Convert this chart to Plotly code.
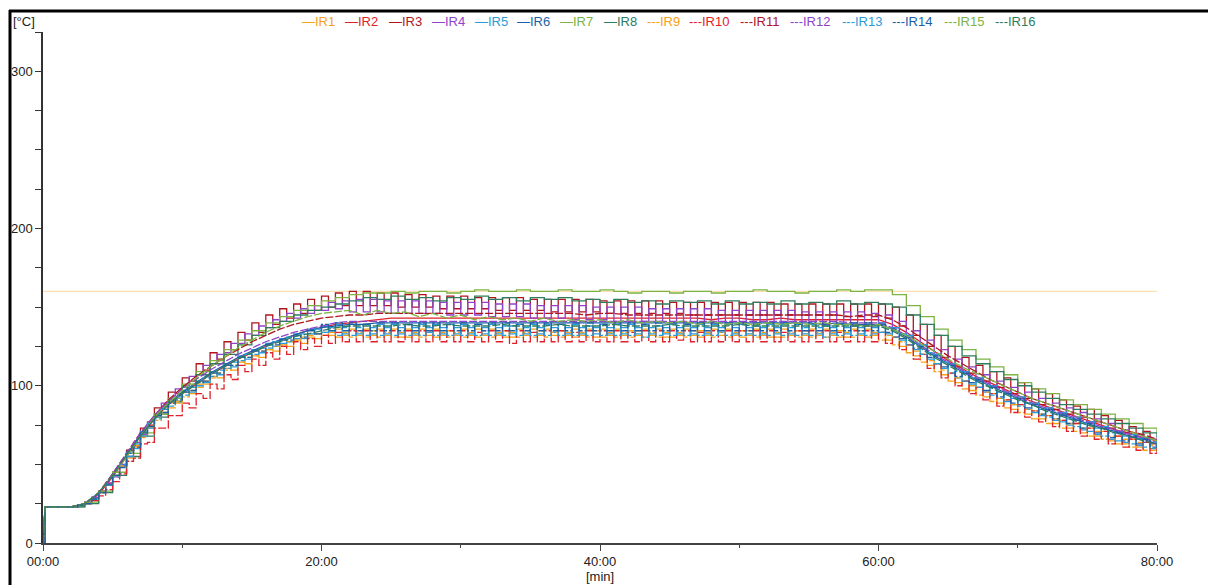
import plotly.graph_objects as go

# ---------------- data ----------------
# sample times (min): first sample at start, logger then records every 0.5 min / 1 min
T_HALF = [0, 0.15] + [i * 0.5 for i in range(2, 161)]
T_MIN = [0, 0.15] + list(range(2, 81))

NAMES = ["IR1", "IR2", "IR3", "IR4", "IR5", "IR6", "IR7", "IR8",
         "IR9", "IR10", "IR11", "IR12", "IR13", "IR14", "IR15", "IR16"]
COLORS = ["#F7A11A", "#E0202A", "#B0151E", "#8E44C9", "#2A9BD8", "#1E5FA6", "#7CB342", "#2E7D5E",
          "#F7A11A", "#E0202A", "#B0151E", "#8E44C9", "#2A9BD8", "#1E5FA6", "#7CB342", "#2E7D5E"]

LIMIT_T = [0, 80]
LIMIT_V = [160, 160]

IR1 = [0,23,23,23,23,24,25,28,32,37,
       43,49,57,61,70,73,81,82,89,89,
       96,95,101,101,106,105,111,110,115,114,119,118,123,122,126,125,129,127,131,130,
       134,132,136,132,136,132,136,132,136,132,136,131,136,132,136,132,136,132,135,132,
       136,132,136,132,136,132,135,131,136,132,136,132,136,132,135,132,136,132,136,131,
       136,132,136,132,135,132,136,132,136,131,136,132,136,132,135,132,136,132,136,132,
       135,132,136,132,136,131,136,132,135,132,136,132,136,132,135,131,136,132,136,132,
       134,129,131,125,126,119,120,113,114,107,108,102,103,97,99,93,95,89,91,85,
       88,82,84,79,81,76,78,73,76,70,73,68,71,65,68,63,66,61,64,59,62]

IR3 = [0,23,23,23,23,24,26,29,33,38,
       45,49,59,62,73,75,86,85,96,95,
       105,103,114,110,121,117,128,123,134,129,140,134,145,139,149,143,152,146,155,148,
       157,150,159,151,160,151,160,151,159,151,159,150,158,150,158,150,157,149,157,149,
       157,149,156,149,156,148,156,148,156,148,155,148,155,147,155,147,155,147,155,147,
       154,146,154,146,154,146,154,146,154,146,153,146,153,145,153,145,153,145,153,145,
       153,145,153,145,153,145,152,145,152,145,152,145,152,145,152,144,152,144,152,144,
       152,143,150,138,145,132,139,125,132,118,125,112,118,108,113,103,109,99,105,95,
       102,92,98,88,95,85,91,82,87,80,85,77,81,73,78,70,74,66,71,63,66]

IR4 = [0,23,23,23,23,24,26,29,33,38,
       42,50,55,64,69,77,81,89,91,98,
       100,106,107,113,114,120,121,127,127,133,132,138,137,142,141,146,143,149,146,151,
       148,153,149,154,147,155,147,155,147,154,146,154,146,154,146,154,146,153,145,153,
       145,153,145,153,144,152,144,152,144,152,143,151,143,151,143,151,142,151,142,150,
       142,150,141,150,141,150,141,149,141,149,140,149,140,149,140,149,140,148,140,148,
       140,148,140,148,139,148,139,148,139,147,139,147,139,147,139,147,138,147,138,146,
       140,145,137,141,132,135,126,129,120,123,114,117,108,112,103,107,99,103,95,99,
       92,96,88,92,85,89,81,86,78,83,77,79,73,76,70,72,67,69,64,66,61]

IR5 = [0,23,23,23,23,24,25,28,32,37,
       43,49,58,60,71,73,82,82,90,90,
       97,96,103,102,109,107,114,112,119,117,123,121,127,125,130,128,133,130,136,133,
       138,134,139,133,139,133,139,133,139,133,139,133,139,133,139,134,139,133,139,133,
       139,133,139,133,139,133,138,133,139,133,139,133,139,134,139,133,139,133,138,133,
       139,133,139,133,139,133,139,133,138,133,139,133,139,133,139,133,139,134,139,133,
       139,133,138,133,139,133,139,133,139,133,139,133,138,133,139,133,139,133,139,133,
       140,133,137,129,132,123,126,117,120,111,114,105,109,101,105,96,100,92,96,88,
       93,85,89,81,86,78,83,75,80,72,77,69,74,66,71,64,69,62,67,60,64]

IR9 = [0,23,23,23,23,24,25,28,32,37,
       42,49,54,62,67,74,78,83,86,90,
       93,97,99,103,105,108,110,113,115,118,119,122,123,125,126,128,129,131,132,133,
       132,134,131,134,131,134,131,135,131,134,131,134,131,134,131,135,131,134,131,134,
       131,134,131,135,131,134,131,134,131,134,131,135,131,134,131,134,131,134,131,135,
       131,134,131,134,131,135,131,134,131,134,131,134,131,135,131,134,131,134,131,134,
       131,135,131,134,131,134,131,134,131,135,131,134,131,134,131,134,131,135,131,134,
       129,132,126,128,121,122,115,116,109,110,103,105,98,100,94,96,90,92,86,88,
       83,85,79,82,76,79,73,76,71,73,68,71,66,68,63,66,61,64,59,62,57]

IR10 = [0,23,23,23,23,24,25,27,30,34,
        39,44,52,54,63,64,73,73,81,81,
        89,86,95,92,101,98,107,104,113,109,117,113,121,117,125,120,128,123,130,125,
        132,127,134,128,135,128,135,128,135,128,135,128,135,128,135,128,135,128,135,128,
        135,128,134,128,135,128,135,127,135,128,134,128,135,128,135,128,134,128,135,128,
        135,128,135,128,134,128,135,128,135,128,135,129,135,128,134,128,135,128,135,128,
        135,128,135,128,135,128,134,128,135,128,135,128,135,128,134,128,135,128,135,128,
        134,127,131,123,126,117,120,111,114,105,108,100,103,95,99,91,95,87,91,83,
        88,80,84,77,81,74,78,71,76,68,73,66,71,63,68,61,66,59,64,57,62]

IR13 = [0,23,23,23,23,24,25,28,32,37,
        42,50,55,63,68,76,79,85,87,93,
        94,99,100,105,106,110,111,115,116,120,120,124,124,128,127,131,130,133,133,136,
        134,137,132,137,132,137,132,137,132,137,132,137,132,137,132,137,132,137,132,137,
        132,137,132,137,132,137,132,138,132,137,132,137,132,137,132,137,132,137,132,137,
        132,137,132,137,132,137,131,137,132,137,132,137,132,137,132,137,132,137,132,137,
        132,137,132,137,132,137,132,137,132,137,132,137,131,137,132,137,132,137,132,137,
        134,137,131,133,126,127,120,121,114,115,108,109,103,105,99,100,94,96,90,92,
        87,89,83,85,80,82,77,79,74,76,71,73,68,70,65,68,63,66,61,64,59]

IR14 = [0,23,23,23,23,24,25,28,32,37,
        43,48,57,61,70,74,81,83,89,91,
        96,97,102,103,108,108,113,113,118,118,122,122,126,126,129,129,132,131,135,133,
        139,135,140,135,140,135,139,135,140,135,140,135,139,135,140,135,140,135,139,135,
        140,135,139,135,140,135,140,135,139,135,140,135,140,135,139,135,140,135,140,135,
        139,135,140,135,140,135,139,135,140,135,140,135,139,135,140,135,140,135,139,135,
        140,135,139,135,140,135,140,135,139,135,140,135,140,135,139,135,140,135,140,135,
        139,134,136,130,131,124,125,118,119,112,113,106,108,102,104,97,99,93,95,89,
        92,86,88,82,85,79,82,76,79,73,76,70,73,67,70,65,68,63,66,61,63]

IR2 = [0,23,23,25,31,42,55,68,79,88,95,
       101,107,112,117,121,125,129,132,135,137,139,
       140,141,142,143,143,143,143,143,143,143,
       143,143,143,143,143,143,143,143,143,143,
       143,143,143,143,143,143,142,143,143,142,
       142,143,142,142,142,142,142,142,142,
       139,134,128,122,116,111,106,102,98,94,90,87,84,81,78,75,72,70,67,65]

IR6 = [0,23,23,25,32,43,56,69,80,89,96,
       102,108,113,118,122,126,129,132,135,137,138,
       139,139,140,140,140,140,140,140,140,140,
       140,140,140,140,140,140,140,140,140,140,
       140,140,140,140,140,140,140,140,140,140,
       140,140,140,140,139,140,139,139,139,
       136,131,125,119,114,109,104,100,96,92,88,85,82,79,76,73,71,68,66,63]

IR7 = [0,23,23,26,33,45,57,70,82,92,101,
       109,116,123,129,135,140,144,148,151,154,156,
       158,159,159,160,159,160,160,159,160,161,
       160,160,161,160,160,161,160,160,161,160,
       159,160,160,159,160,160,159,160,160,161,
       160,160,159,160,160,161,160,161,161,
       158,151,144,136,129,123,117,112,107,102,98,95,91,88,85,82,79,76,73,70]

IR8 = [0,23,23,25,32,43,55,68,80,90,99,
       107,114,120,126,132,137,141,145,148,150,152,
       154,156,155,157,155,156,154,156,155,157,
       155,156,154,156,155,156,154,155,153,155,
       153,154,152,154,153,154,152,154,152,153,
       152,154,152,153,152,154,152,153,152,
       150,145,139,132,125,119,114,109,104,100,96,92,88,85,82,79,76,73,70,67]

IR11 = [0,23,23,25,32,44,57,70,81,91,99,
        106,112,118,123,128,132,136,139,141,143,144,
        145,145,146,146,146,146,146,146,146,146,
        146,146,146,146,146,146,146,145,146,146,
        145,145,145,145,145,145,145,145,145,145,
        145,145,145,145,145,145,144,145,145,
        142,137,131,125,119,114,109,104,100,96,92,89,86,83,80,77,74,71,69,66]

IR12 = [0,23,23,25,32,44,57,70,81,90,98,
        104,110,115,120,124,128,131,134,136,138,140,
        141,141,141,141,141,141,141,141,141,141,
        141,141,141,141,141,141,141,141,141,141,
        141,141,141,141,141,141,141,141,141,141,
        141,141,141,141,141,141,140,140,140,
        137,132,126,120,115,110,105,101,97,93,89,86,83,80,77,74,72,69,67,64]

IR15 = [0,23,23,25,32,43,55,68,80,89,97,
        105,112,118,124,129,134,138,141,144,146,147,
        148,145,148,146,147,144,146,143,145,142,
        144,142,143,141,143,141,142,141,142,140,
        142,140,141,140,141,139,141,139,140,139,
        140,139,140,139,140,139,139,138,139,
        136,132,127,122,117,112,108,104,100,96,92,89,86,83,80,77,74,71,68,65]

IR16 = [0,23,23,25,32,43,56,68,79,88,95,
        101,107,112,117,121,125,128,131,133,135,137,
        138,138,138,138,139,138,138,139,138,138,
        138,139,138,138,138,139,138,138,138,139,
        138,138,138,139,138,138,138,138,139,138,
        138,138,138,138,138,138,138,138,138,
        135,130,124,118,113,108,103,99,95,91,88,84,81,78,75,73,70,68,65,63]

SERIES = [IR1, IR2, IR3, IR4, IR5, IR6, IR7, IR8,
          IR9, IR10, IR11, IR12, IR13, IR14, IR15, IR16]
STEPPED = [True, False, True, True, True, False, True, True,
           True, True, False, False, True, True, False, False]

XTICK_VALS = [0, 20, 40, 60, 80]
XTICK_LABELS = ["00:00", "20:00", "40:00", "60:00", "80:00"]
YTICK_VALS = [0, 100, 200, 300]
YTICK_LABELS = ["0", "100", "200", "300"]

# ---------------- figure ----------------
W, H = 1208, 585
L, R, T, B = 43, 51, 32, 42
FONT = "Liberation Sans, Arial, sans-serif"


def px_x(px):
    return (px - L) / (W - L - R)


def px_y(py):
    return (H - B - py) / (H - T - B)


fig = go.Figure()

fig.add_trace(go.Scatter(x=LIMIT_T, y=LIMIT_V, mode="lines",
                         line=dict(color="#FCDDB4", width=1.2),
                         hoverinfo="skip", showlegend=False))

for k, (name, color, vals) in enumerate(zip(NAMES, COLORS, SERIES)):
    assert len(vals) in (len(T_HALF), len(T_MIN)), (name, len(vals))
    xs = T_HALF if len(vals) == len(T_HALF) else T_MIN
    fig.add_trace(go.Scatter(
        x=xs, y=vals, name=name, mode="lines",
        line=dict(color=color, width=1.3, shape="hv" if STEPPED[k] else "linear",
                  dash="solid" if k < 8 else "8px,2px"),
        showlegend=False))

# compact legend (colored text entries, as in the original)
LEG_PX = [300, 343, 387, 430, 473, 515, 558, 602, 645,
          687, 738, 788, 840, 890, 942, 993]
annotations = []
for k, (name, color) in enumerate(zip(NAMES, COLORS)):
    prefix = "\u2014" if k < 8 else "---"
    annotations.append(dict(
        x=px_x(LEG_PX[k]), y=px_y(22), xref="paper", yref="paper",
        xanchor="left", yanchor="middle", showarrow=False,
        text=prefix + name, font=dict(family=FONT, size=13, color=color)))

annotations.append(dict(x=px_x(11), y=px_y(22), xref="paper", yref="paper",
                        xanchor="left", yanchor="middle", showarrow=False,
                        text="[°C]", font=dict(family=FONT, size=13, color="#222")))
annotations.append(dict(x=px_x(600), y=px_y(576), xref="paper", yref="paper",
                        xanchor="center", yanchor="middle", showarrow=False,
                        text="[min]", font=dict(family=FONT, size=13, color="#222")))

shapes = [
    dict(type="line", xref="paper", yref="paper",
         x0=px_x(9), x1=px_x(1215), y0=px_y(11), y1=px_y(11),
         line=dict(color="black", width=3)),
    dict(type="line", xref="paper", yref="paper",
         x0=px_x(10), x1=px_x(10), y0=px_y(10), y1=px_y(600),
         line=dict(color="black", width=3)),
]

fig.update_layout(
    width=W, height=H,
    margin=dict(l=L, r=R, t=T, b=B, pad=0),
    paper_bgcolor="white", plot_bgcolor="white",
    font=dict(family=FONT, size=13, color="#222"),
    showlegend=False,
    annotations=annotations,
    shapes=shapes,
    xaxis=dict(range=[0, 80], tickmode="array", tickvals=XTICK_VALS, ticktext=XTICK_LABELS,
               showgrid=False, zeroline=False, showline=True, linecolor="#444", linewidth=1.5,
               ticks="outside", ticklen=6, tickcolor="#444", tickwidth=1.2,
               minor=dict(tickmode="linear", tick0=0, dtick=10, ticks="outside",
                          ticklen=3, tickcolor="#444", showgrid=False),
               tickfont=dict(family=FONT, size=13, color="#222")),
    yaxis=dict(range=[0, 325], tickmode="array", tickvals=YTICK_VALS, ticktext=YTICK_LABELS,
               showgrid=False, zeroline=False, showline=True, linecolor="#333", linewidth=1.5,
               ticks="outside", ticklen=6, tickcolor="#333", tickwidth=1.2,
               minor=dict(tickmode="linear", tick0=0, dtick=25, ticks="outside",
                          ticklen=6, tickcolor="#333", showgrid=False),
               tickfont=dict(family=FONT, size=13, color="#222")),
)

fig.write_html("out.html",
               config={"displayModeBar": False},
               post_script="document.body.style.margin='0';document.body.style.overflow='hidden';")
